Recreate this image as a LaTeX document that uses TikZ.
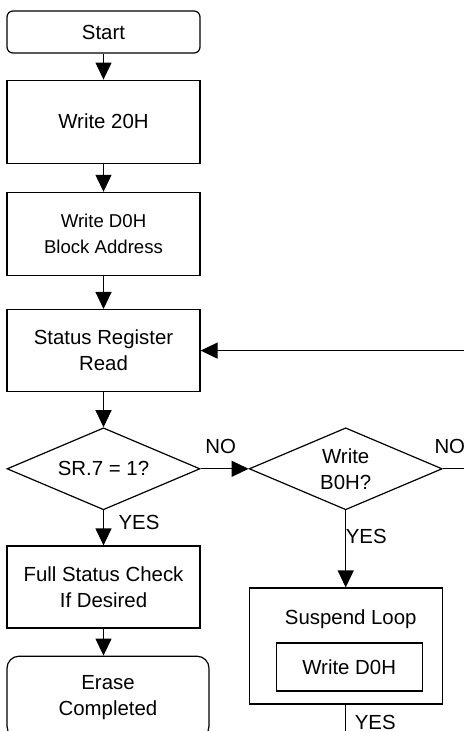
\documentclass[tikz,border=0pt]{standalone}
\usepackage{fontspec}
\setmainfont{Liberation Sans}
\usepackage{tikz}
\usetikzlibrary{positioning}
\usetikzlibrary{shapes.geometric}
\usetikzlibrary{arrows.meta}

\begin{document}
\begin{tikzpicture}[
    line width=0.6pt,
    >={Triangle[width=8pt,length=8.5pt]},
    every node/.style={font=\fontsize{10.2}{13}\selectfont},
    box/.style={rectangle, draw=black, line width=0.6pt, minimum width=96.5pt, minimum height=41.5pt, align=center},
    term/.style={box, rounded corners=3pt},
    decision/.style={diamond, aspect=2.35, draw=black, line width=0.6pt, minimum width=96.5pt, minimum height=41pt, inner sep=0pt, align=center},
    lbl/.style={inner sep=0pt}
]
\useasboundingbox (0,0) rectangle (232pt,-365.5pt);
\clip (0,0) rectangle (232pt,-365.5pt);

\node[term, minimum height=21pt] (1_1) at (51.75pt,-16pt) {Start};
\node[box] (2_1) [below=13pt of 1_1] {Write 20H};
\node[box, font=\fontsize{9.3}{13}\selectfont] (3_1) [below=14pt of 2_1] {Write D0H\\Block Address};
\node[box, minimum height=41pt] (4_1) [below=16.5pt of 3_1] {Status Register\\Read};
\node[decision] (5_1) [below=17.5pt of 4_1] {SR.7 = 1?};
\node[decision] (5_2) [right=24pt of 5_1] {Write\\B0H?};
\node[box, minimum height=41pt] (6_1) [below=17.5pt of 5_1] {Full Status Check\\If Desired};
\node[term, rounded corners=6pt, minimum width=101pt, minimum height=41pt] (7_1) [below=13.5pt of 6_1, xshift=2.25pt] {Erase\\Completed};
\node[box, minimum height=58pt] (6_2) [below=38.5pt of 5_2] {};
\node (6_2_t) at ([xshift=2.5pt, yshift=-16pt]6_2.north) {Suspend Loop};
\node[box, minimum width=73pt, minimum height=24pt] (6_2_in) at ([xshift=1.75pt, yshift=-10.5pt]6_2.center) {Write D0H};

% labels
\node[lbl] (no_1) at ([xshift=10pt, yshift=11pt]5_1.east) {NO};
\node[lbl] (no_2) at ([xshift=3.5pt, yshift=11pt]5_2.east) {NO};
\node[lbl, anchor=west] (yes_1) at ([xshift=7.25pt, yshift=-6pt]5_1.south) {YES};
\node[lbl, anchor=west] (yes_2) at ([xshift=-0.25pt, yshift=-13pt]5_2.south) {YES};
\node[lbl, anchor=west] (yes_3) at ([xshift=4.25pt, yshift=-9pt]6_2.south) {YES};

% free ends at the edge
\coordinate (edge) at (232pt,-365.5pt);
\coordinate (loop_in) at (4_1.east -| edge);
\coordinate (no_out) at (5_2.east -| edge);
\coordinate (yes_out) at (6_2.south |- edge);

\draw[->] (1_1.south) to (2_1.north);
\draw[->] (2_1.south) to (3_1.north);
\draw[->] (3_1.south) to (4_1.north);
\draw[->] (4_1.south) to (5_1.north);
\draw[->] (5_1.south) to (6_1.north);
\draw[->] (6_1.south) to (6_1.south |- 7_1.north);
\draw[->] (5_1.east) to (5_2.west);
\draw[->] (5_2.south) to (6_2.north);
\draw (5_2.east) to (no_out);
\draw[->] (loop_in) to (4_1.east);
\draw (6_2.south) to (yes_out);
\end{tikzpicture}
\end{document}
